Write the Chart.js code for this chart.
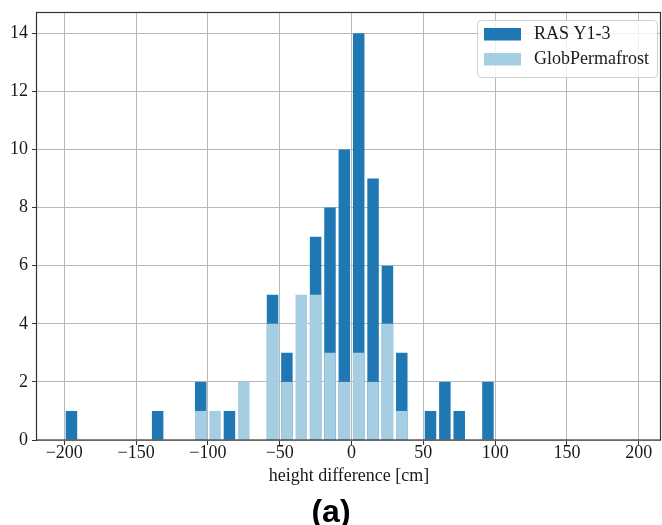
<!DOCTYPE html>
<html>
<head>
<meta charset="utf-8">
<script src="https://cdn.jsdelivr.net/npm/chart.js"></script>
<style>
  html, body { margin: 0; padding: 0; background: #fff; }
  #wrap { width: 662px; height: 525px; position: relative; }
</style>
</head>
<body>
<div id="wrap"><canvas id="grafico"></canvas></div>
<script>
// bin centres (10 cm bins) and counts
const binCenters = [-195, -135, -105, -95, -85, -75, -55, -45, -35, -25, -15, -5, 5, 15, 25, 35, 55, 65, 75, 95];
const rasCounts  = [1, 1, 2, 0, 1, 0, 5, 3, 0, 7, 8, 10, 14, 9, 6, 3, 1, 2, 1, 2];
const globCounts = [0, 0, 1, 1, 0, 2, 4, 2, 5, 5, 3, 2, 3, 2, 4, 1, 0, 0, 0, 0];
const xTicks = [-200, -150, -100, -50, 0, 50, 100, 150, 200];
const yTicks = [0, 2, 4, 6, 8, 10, 12, 14];

const corEscura = '#1f78b4';
const corClara = '#a6cee3';
const serif = "'Liberation Serif', 'DejaVu Serif', serif";

function pontos(valores) {
  return binCenters.map((x, i) => ({ x: x, y: valores[i] }));
}

// spines + legend + panel label, matplotlib style
const molduraPlugin = {
  id: 'moldura',
  afterDatasetsDraw(chart) {
    const { ctx, chartArea: a } = chart;
    ctx.save();
    ctx.strokeStyle = '#333';
    ctx.lineWidth = 1.2;
    ctx.strokeRect(a.left - 0.5, a.top - 0.5, a.right - a.left, a.bottom - a.top + 0.5);
    ctx.restore();
  },
  afterDraw(chart) {
    const ctx = chart.ctx;
    ctx.save();
    // legend box
    const bx = 477, by = 20, bw = 180, bh = 57;
    ctx.beginPath();
    ctx.roundRect(bx + 0.5, by + 0.5, bw, bh, 4);
    ctx.fillStyle = 'rgba(255,255,255,0.8)';
    ctx.fill();
    ctx.strokeStyle = '#d0d0d0';
    ctx.lineWidth = 1;
    ctx.stroke();
    chart.data.datasets.forEach((ds, i) => {
      const y = 28 + i * 25;
      ctx.fillStyle = ds.backgroundColor;
      ctx.fillRect(484, y, 37, 12.5);
      ctx.fillStyle = '#1a1a1a';
      ctx.font = '18px ' + serif;
      ctx.textBaseline = 'middle';
      ctx.textAlign = 'left';
      ctx.fillText(ds.label, 534, y + 6.5);
    });
    // panel label
    ctx.fillStyle = '#000';
    ctx.font = "bold 32px 'Liberation Sans', Arial, sans-serif";
    ctx.textAlign = 'center';
    ctx.textBaseline = 'alphabetic';
    ctx.fillText('(a)', 331, 522);
    ctx.restore();
  }
};

const config = {
  type: 'bar',
  data: {
    datasets: [
      {
        label: 'RAS Y1-3',
        data: pontos(rasCounts),
        backgroundColor: corEscura,
        order: 1
      },
      {
        label: 'GlobPermafrost',
        data: pontos(globCounts),
        backgroundColor: corClara,
        order: 0
      }
    ]
  },
  options: {
    responsive: true,
    maintainAspectRatio: false,
    animation: false,
    layout: { padding: { top: 11, right: 1, left: 0, bottom: 0 } },
    datasets: {
      bar: { grouped: false, barPercentage: 0.8, categoryPercentage: 1.0, borderWidth: 0 }
    },
    plugins: {
      legend: { display: false },
      tooltip: { enabled: false },
      title: { display: false }
    },
    scales: {
      x: {
        type: 'linear',
        bounds: 'data',
        min: -219,
        max: 215.5,
        offset: false,
        afterBuildTicks: scale => { scale.ticks = xTicks.map(v => ({ value: v })); },
        afterFit: scale => { scale.height = 85; },
        grid: { offset: false, color: '#b8b8b8', lineWidth: 1, tickColor: '#333', tickLength: 5 },
        border: { display: false },
        ticks: {
          autoSkip: false,
          maxRotation: 0,
          padding: -1,
          color: '#1a1a1a',
          font: { family: serif, size: 18, lineHeight: 1 },
          callback: v => (v < 0 ? '\u2212' + Math.abs(v) : String(v))
        },
        title: {
          display: true,
          text: 'height difference [cm]',
          color: '#1a1a1a',
          font: { family: serif, size: 18, lineHeight: 1 },
          padding: { top: 0, bottom: 40 }
        }
      },
      y: {
        type: 'linear',
        bounds: 'data',
        min: 0,
        max: 14.7,
        afterBuildTicks: scale => { scale.ticks = yTicks.map(v => ({ value: v })); },
        afterFit: scale => { scale.width = 37; },
        grid: { color: '#b8b8b8', lineWidth: 1, tickColor: '#333', tickLength: 5 },
        border: { display: false },
        ticks: {
          padding: 4,
          color: '#1a1a1a',
          font: { family: serif, size: 18, lineHeight: 1 }
        }
      }
    }
  },
  plugins: [molduraPlugin]
};

new Chart(document.getElementById('grafico'), config);
</script>
</body>
</html>
